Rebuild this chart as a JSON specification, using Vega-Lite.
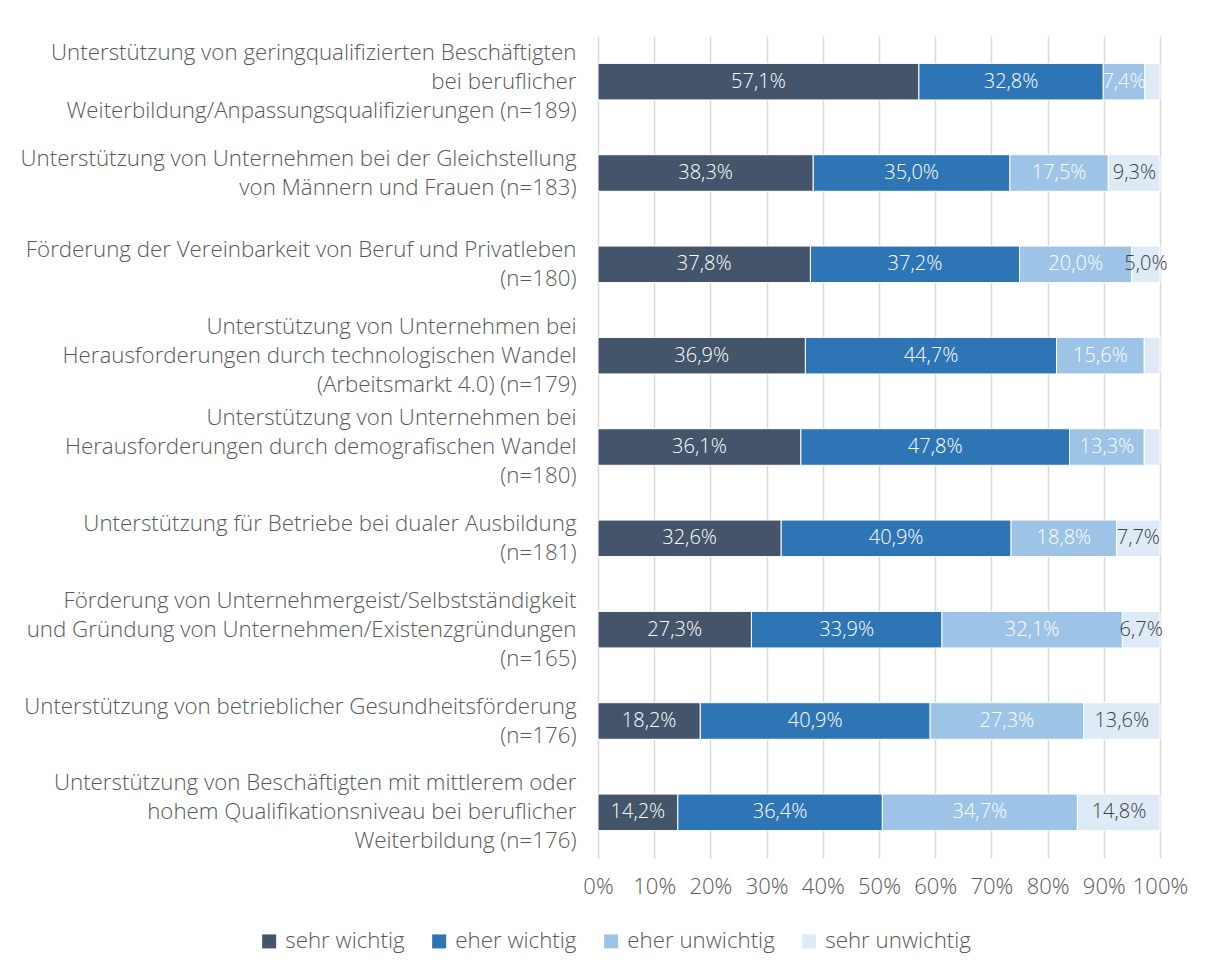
{
  "$schema": "https://vega.github.io/schema/vega-lite/v6.json",
  "autosize": {"type": "none"},
  "padding": {"left": 598, "top": 36, "right": 52, "bottom": 116},
  "width": 562,
  "height": 822,
  "background": "white",
  "config": {
    "font": "Open Sans",
    "view": {"stroke": null},
    "locale": {"number": {"decimal": ",", "thousands": ".", "grouping": [3], "currency": ["", " €"]}}
  },
  "data": {
    "values": [
      {"cat": "Unterstützung von geringqualifizierten Beschäftigten|bei beruflicher|Weiterbildung/Anpassungsqualifizierungen (n=189)", "series": "sehr wichtig", "v": 0.571},
      {"cat": "Unterstützung von geringqualifizierten Beschäftigten|bei beruflicher|Weiterbildung/Anpassungsqualifizierungen (n=189)", "series": "eher wichtig", "v": 0.328},
      {"cat": "Unterstützung von geringqualifizierten Beschäftigten|bei beruflicher|Weiterbildung/Anpassungsqualifizierungen (n=189)", "series": "eher unwichtig", "v": 0.074},
      {"cat": "Unterstützung von geringqualifizierten Beschäftigten|bei beruflicher|Weiterbildung/Anpassungsqualifizierungen (n=189)", "series": "sehr unwichtig", "v": 0.027},
      {"cat": "Unterstützung von Unternehmen bei der Gleichstellung|von Männern und Frauen (n=183)", "series": "sehr wichtig", "v": 0.383},
      {"cat": "Unterstützung von Unternehmen bei der Gleichstellung|von Männern und Frauen (n=183)", "series": "eher wichtig", "v": 0.350},
      {"cat": "Unterstützung von Unternehmen bei der Gleichstellung|von Männern und Frauen (n=183)", "series": "eher unwichtig", "v": 0.175},
      {"cat": "Unterstützung von Unternehmen bei der Gleichstellung|von Männern und Frauen (n=183)", "series": "sehr unwichtig", "v": 0.093},
      {"cat": "Förderung der Vereinbarkeit von Beruf und Privatleben|(n=180)", "series": "sehr wichtig", "v": 0.378},
      {"cat": "Förderung der Vereinbarkeit von Beruf und Privatleben|(n=180)", "series": "eher wichtig", "v": 0.372},
      {"cat": "Förderung der Vereinbarkeit von Beruf und Privatleben|(n=180)", "series": "eher unwichtig", "v": 0.200},
      {"cat": "Förderung der Vereinbarkeit von Beruf und Privatleben|(n=180)", "series": "sehr unwichtig", "v": 0.050},
      {"cat": "Unterstützung von Unternehmen bei|Herausforderungen durch technologischen Wandel|(Arbeitsmarkt 4.0) (n=179)", "series": "sehr wichtig", "v": 0.369},
      {"cat": "Unterstützung von Unternehmen bei|Herausforderungen durch technologischen Wandel|(Arbeitsmarkt 4.0) (n=179)", "series": "eher wichtig", "v": 0.447},
      {"cat": "Unterstützung von Unternehmen bei|Herausforderungen durch technologischen Wandel|(Arbeitsmarkt 4.0) (n=179)", "series": "eher unwichtig", "v": 0.156},
      {"cat": "Unterstützung von Unternehmen bei|Herausforderungen durch technologischen Wandel|(Arbeitsmarkt 4.0) (n=179)", "series": "sehr unwichtig", "v": 0.028},
      {"cat": "Unterstützung von Unternehmen bei|Herausforderungen durch demografischen Wandel|(n=180)", "series": "sehr wichtig", "v": 0.361},
      {"cat": "Unterstützung von Unternehmen bei|Herausforderungen durch demografischen Wandel|(n=180)", "series": "eher wichtig", "v": 0.478},
      {"cat": "Unterstützung von Unternehmen bei|Herausforderungen durch demografischen Wandel|(n=180)", "series": "eher unwichtig", "v": 0.133},
      {"cat": "Unterstützung von Unternehmen bei|Herausforderungen durch demografischen Wandel|(n=180)", "series": "sehr unwichtig", "v": 0.028},
      {"cat": "Unterstützung für Betriebe bei dualer Ausbildung|(n=181)", "series": "sehr wichtig", "v": 0.326},
      {"cat": "Unterstützung für Betriebe bei dualer Ausbildung|(n=181)", "series": "eher wichtig", "v": 0.409},
      {"cat": "Unterstützung für Betriebe bei dualer Ausbildung|(n=181)", "series": "eher unwichtig", "v": 0.188},
      {"cat": "Unterstützung für Betriebe bei dualer Ausbildung|(n=181)", "series": "sehr unwichtig", "v": 0.077},
      {"cat": "Förderung von Unternehmergeist/Selbstständigkeit|und  Gründung von Unternehmen/Existenzgründungen|(n=165)", "series": "sehr wichtig", "v": 0.273},
      {"cat": "Förderung von Unternehmergeist/Selbstständigkeit|und  Gründung von Unternehmen/Existenzgründungen|(n=165)", "series": "eher wichtig", "v": 0.339},
      {"cat": "Förderung von Unternehmergeist/Selbstständigkeit|und  Gründung von Unternehmen/Existenzgründungen|(n=165)", "series": "eher unwichtig", "v": 0.321},
      {"cat": "Förderung von Unternehmergeist/Selbstständigkeit|und  Gründung von Unternehmen/Existenzgründungen|(n=165)", "series": "sehr unwichtig", "v": 0.067},
      {"cat": "Unterstützung von betrieblicher Gesundheitsförderung|(n=176)", "series": "sehr wichtig", "v": 0.182},
      {"cat": "Unterstützung von betrieblicher Gesundheitsförderung|(n=176)", "series": "eher wichtig", "v": 0.409},
      {"cat": "Unterstützung von betrieblicher Gesundheitsförderung|(n=176)", "series": "eher unwichtig", "v": 0.273},
      {"cat": "Unterstützung von betrieblicher Gesundheitsförderung|(n=176)", "series": "sehr unwichtig", "v": 0.136},
      {"cat": "Unterstützung von Beschäftigten mit mittlerem oder|hohem Qualifikationsniveau bei beruflicher|Weiterbildung (n=176)", "series": "sehr wichtig", "v": 0.142},
      {"cat": "Unterstützung von Beschäftigten mit mittlerem oder|hohem Qualifikationsniveau bei beruflicher|Weiterbildung (n=176)", "series": "eher wichtig", "v": 0.364},
      {"cat": "Unterstützung von Beschäftigten mit mittlerem oder|hohem Qualifikationsniveau bei beruflicher|Weiterbildung (n=176)", "series": "eher unwichtig", "v": 0.347},
      {"cat": "Unterstützung von Beschäftigten mit mittlerem oder|hohem Qualifikationsniveau bei beruflicher|Weiterbildung (n=176)", "series": "sehr unwichtig", "v": 0.148}
    ]
  },
  "transform": [
    {"calculate": "indexof(['sehr wichtig','eher wichtig','eher unwichtig','sehr unwichtig'], datum.series)", "as": "k"},
    {"stack": "v", "groupby": ["cat"], "sort": [{"field": "k", "order": "ascending"}], "as": ["v0", "v1"]},
    {"calculate": "(datum.v0 + datum.v1) / 2", "as": "mid"}
  ],
  "encoding": {
    "y": {
      "field": "cat", "type": "nominal", "sort": null,
      "scale": {"paddingInner": 0.6, "paddingOuter": 0.3},
      "axis": {
        "title": null, "ticks": false, "domain": false, "grid": false,
        "labelExpr": "split(datum.label, '|')",
        "labelFontSize": 22.3, "labelFontWeight": 300, "labelColor": "#595959", "labelLineHeight": 29,
        "labelOffset": {"condition": {"test": "length(split(datum.value, '|')) == 3", "value": -29}, "value": -14.5},
        "labelPadding": 22, "labelLimit": 0, "labelAlign": "right"
      }
    }
  },
  "layer": [
    {
      "mark": {"type": "bar", "stroke": "white", "strokeWidth": 1},
      "encoding": {
        "x": {
          "field": "v0", "type": "quantitative",
          "scale": {"domain": [0, 1], "clamp": true, "nice": false},
          "axis": {
            "title": null, "format": ".0%", "values": [0, 0.1, 0.2, 0.3, 0.4, 0.5, 0.6, 0.7, 0.8, 0.9, 1],
            "grid": true, "gridColor": "#d9d9d9", "gridWidth": 1.5,
            "ticks": false, "domain": false, "labelFlush": false,
            "labelFontSize": 22, "labelFontWeight": 300, "labelColor": "#595959", "labelPadding": 18
          }
        },
        "x2": {"field": "v1"},
        "color": {
          "field": "series", "type": "nominal",
          "scale": {
            "domain": ["sehr wichtig", "eher wichtig", "eher unwichtig", "sehr unwichtig"],
            "range": ["#44546A", "#2E75B6", "#9DC3E6", "#DEEBF7"]
          },
          "legend": {
            "title": null, "orient": "none", "direction": "horizontal",
            "legendX": -340, "legendY": 894,
            "symbolType": "square", "symbolSize": 196, "symbolStrokeWidth": 0,
            "labelFontSize": 22.3, "labelFontWeight": 300, "labelColor": "#595959", "labelOffset": 5,
            "columnPadding": 23, "labelLimit": 0
          }
        }
      }
    },
    {
      "transform": [{"filter": "datum.v >= 0.04"}],
      "mark": {"type": "text", "fontSize": 20, "fontWeight": 300, "baseline": "middle", "align": "center"},
      "encoding": {
        "x": {"field": "mid", "type": "quantitative"},
        "text": {"field": "v", "type": "quantitative", "format": ".1%"},
        "color": {
          "condition": {"test": "datum.series === 'sehr unwichtig'", "value": "#404040"},
          "value": "white"
        }
      }
    }
  ]
}
